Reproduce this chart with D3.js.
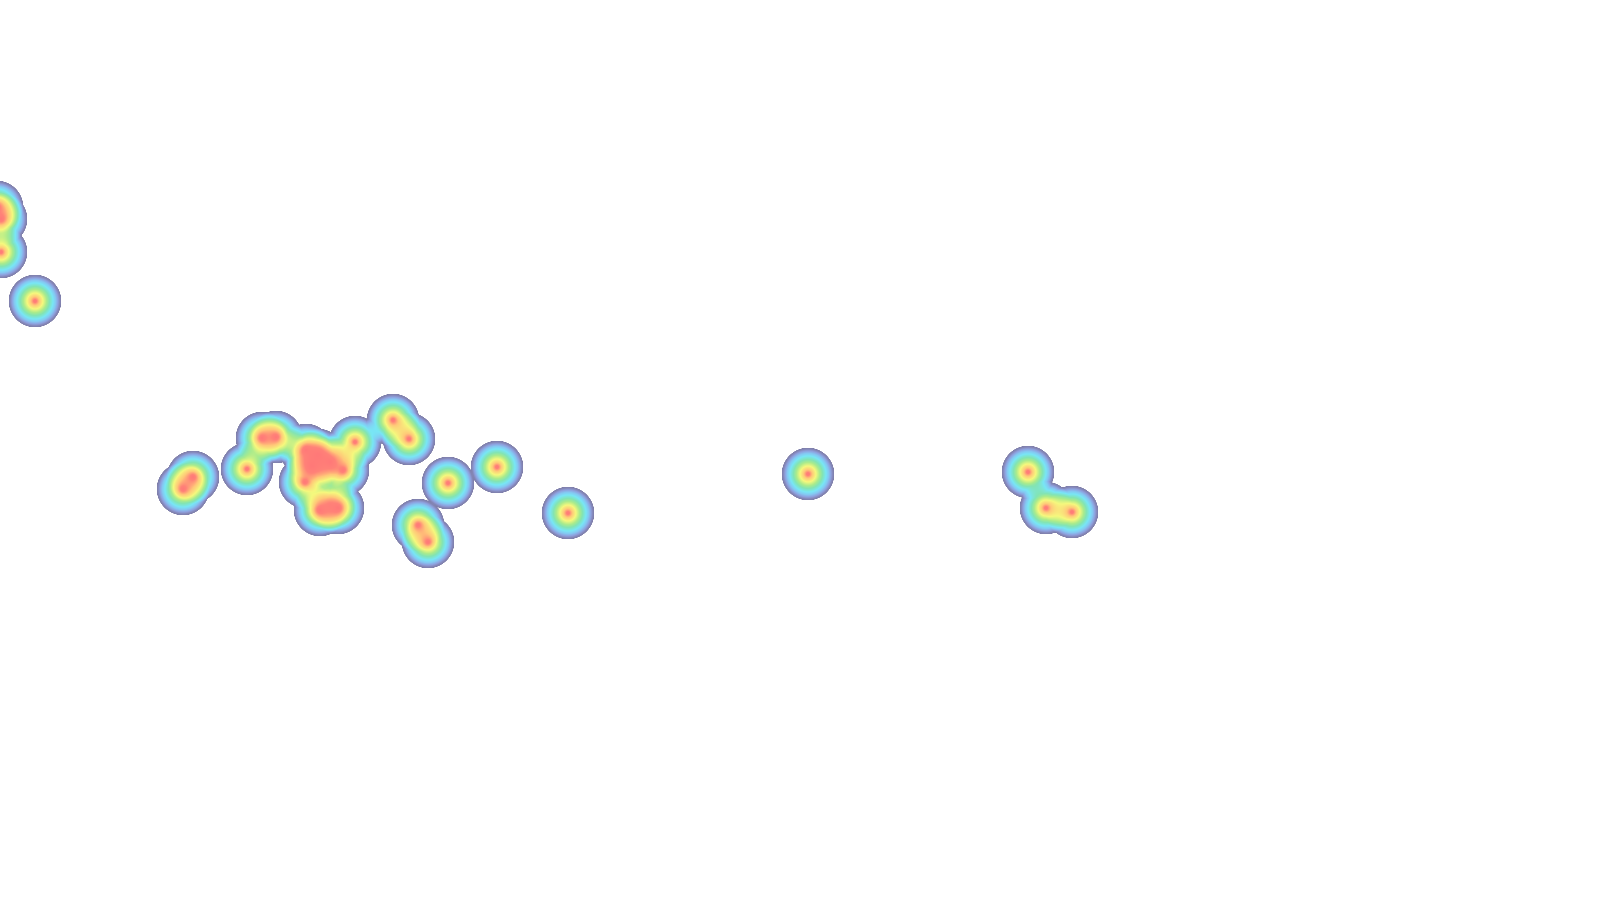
<!DOCTYPE html>
<html><head><meta charset="utf-8">
<script src="https://cdn.jsdelivr.net/npm/d3@7"></script>
<style>html,body{margin:0;padding:0;background:#fff;overflow:hidden}</style>
</head><body>
<script>
// Heat points (x, y in chart units) and their weights
const pointX = [-3, 1, 1, 35, 193, 183, 247, 262, 276, 306, 318, 330, 343, 312, 305, 320, 338, 330, 355, 393, 409, 448, 497, 418, 428, 568, 808, 1028, 1046, 1072];
const pointY = [207, 219, 252, 301, 477, 489, 469, 438, 437, 450, 455, 462, 470, 466, 482, 510, 508, 505, 442, 420, 439, 483, 467, 525, 542, 513, 474, 472, 508, 512];
const pointValue = [1, 1, 1, 1, 1, 1, 1, 1, 1, 1, 1, 1, 1, 1, 1, 1, 1, 0.7, 1, 1, 1, 1, 1, 1, 1, 1, 1, 1, 1, 1];

// Colour ramp of the heat layer
const colorStops = [0, 0.06, 0.13, 0.22, 0.32, 0.45, 0.56, 0.7, 0.84, 0.94, 1];
const colorRange = ["#7c7ca6", "#8486b6", "#8ea0de", "#84c8f2", "#78e6f5", "#82e4b4", "#aaeb8c", "#f5f87d", "#ffc878", "#ff8278", "#ff7878"];

const W = 1600, H = 900, R = 26.5;
const data = pointX.map((d, i) => ({x: d, y: pointY[i], v: pointValue[i]}));

const x = d3.scaleLinear().domain([0, 1600]).range([0, W]);
const y = d3.scaleLinear().domain([0, 900]).range([0, H]);
const kernel = d3.scaleLinear().domain([0, R]).range([1, 0]).clamp(true);
const color = d3.scaleLinear().domain(colorStops).range(colorRange)
  .interpolate(d3.interpolateRgb).clamp(true);

const canvas = d3.select("body").append("canvas")
  .attr("width", W).attr("height", H).style("display", "block");
const ctx = canvas.node().getContext("2d");

const inv = new Float32Array(W * H).fill(1);
data.forEach(d => {
  const cx = x(d.x), cy = y(d.y);
  const x0 = Math.max(0, Math.floor(cx - R)), x1 = Math.min(W - 1, Math.ceil(cx + R));
  const y0 = Math.max(0, Math.floor(cy - R)), y1 = Math.min(H - 1, Math.ceil(cy + R));
  for (let py = y0; py <= y1; py++) {
    for (let px = x0; px <= x1; px++) {
      const r = Math.hypot(px + 0.5 - cx, py + 0.5 - cy);
      if (r < R) {
        const a = d.v * kernel(r);
        inv[py * W + px] *= (1 - a);
      }
    }
  }
});

const N = 1024;
const lut = d3.range(N).map(i => d3.rgb(color(i / (N - 1))));
const img = ctx.createImageData(W, H);
const p = img.data;
for (let i = 0; i < W * H; i++) {
  const t = 1 - inv[i];
  let r = 255, g = 255, b = 255;
  if (t > 0) {
    const c = lut[Math.min(N - 1, Math.floor(t * (N - 1)))];
    const al = Math.min(1, t / 0.015);
    r = 255 + (c.r - 255) * al; g = 255 + (c.g - 255) * al; b = 255 + (c.b - 255) * al;
  }
  p[i * 4] = r; p[i * 4 + 1] = g; p[i * 4 + 2] = b; p[i * 4 + 3] = 255;
}
ctx.putImageData(img, 0, 0);
</script>
</body></html>
